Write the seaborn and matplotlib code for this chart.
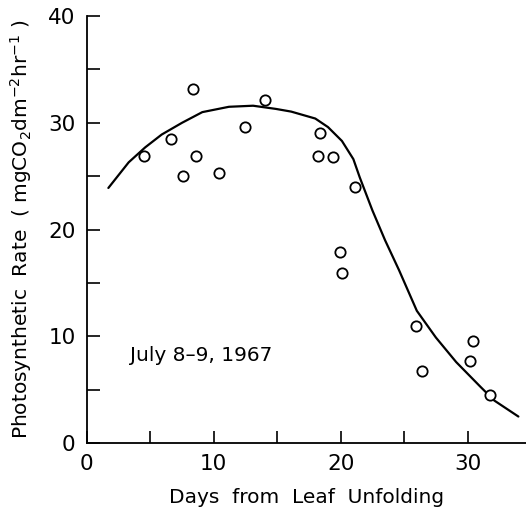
import matplotlib
matplotlib.use("Agg")
import matplotlib.pyplot as plt
from matplotlib.ticker import MultipleLocator
import seaborn as sns
import pandas as pd

# Measured leaf photosynthesis, July 8-9, 1967
obs_days = [4.5, 6.6, 7.6, 8.4, 8.6, 10.4, 12.5, 14.0, 18.4, 18.2, 19.4, 21.1,
            19.95, 20.1, 25.9, 26.4, 30.4, 30.2, 31.8]
obs_rate = [26.9, 28.5, 25.0, 33.2, 26.9, 25.3, 29.6, 32.1, 29.0, 26.9, 26.8, 24.0,
            17.9, 15.9, 11.0, 6.8, 9.6, 7.7, 4.5]

# Fitted seasonal trend
curve_days = [1.7, 3.3, 4.6, 5.9, 7.5, 9.1, 11.2, 13.1, 14.9, 16.1, 18.0, 19.0,
              20.1, 21.0, 21.5, 22.5, 23.5, 24.6, 26.0, 27.5, 29.1, 31.0, 32.1, 34.0]
curve_rate = [23.9, 26.3, 27.7, 28.9, 30.0, 31.0, 31.5, 31.6, 31.3, 31.05, 30.4, 29.6,
              28.3, 26.6, 24.9, 21.8, 19.0, 16.2, 12.4, 9.9, 7.6, 5.3, 4.0, 2.5]

obs = pd.DataFrame({"day": obs_days, "rate": obs_rate})
curve = pd.DataFrame({"day": curve_days, "rate": curve_rate})

sns.set_style("ticks")
plt.rcParams["font.family"] = ["DejaVu Sans"]
plt.rcParams["text.color"] = "black"
plt.rcParams["axes.labelcolor"] = "black"
plt.rcParams["xtick.color"] = "black"
plt.rcParams["ytick.color"] = "black"

fig = plt.figure(figsize=(5.26, 5.16), dpi=100)
ax = fig.add_axes([0.165, 0.141, 0.835, 0.828])

sns.lineplot(data=curve, x="day", y="rate", ax=ax, color="black", linewidth=1.6,
             sort=False, estimator=None, zorder=2)
sns.scatterplot(data=obs, x="day", y="rate", ax=ax, marker="o", s=55,
                facecolor="white", edgecolor="black", linewidth=1.3, zorder=3)
for line in ax.lines:
    line.set_solid_joinstyle("round")

ax.set_xlim(0, 34.6)
ax.set_ylim(0, 40)
ax.xaxis.set_major_locator(MultipleLocator(10))
ax.xaxis.set_minor_locator(MultipleLocator(5))
ax.yaxis.set_major_locator(MultipleLocator(10))
ax.yaxis.set_minor_locator(MultipleLocator(5))

for side in ("top", "right"):
    ax.spines[side].set_visible(False)
for side in ("left", "bottom"):
    ax.spines[side].set_linewidth(1.3)
    ax.spines[side].set_color("black")

ax.tick_params(axis="both", which="both", direction="in", width=1.2, color="black")
ax.tick_params(axis="both", which="major", length=9, labelsize=15.5, pad=8)
ax.tick_params(axis="both", which="minor", length=9)

ax.set_xlabel("Days  from  Leaf  Unfolding", fontsize=14.5, labelpad=10)
ax.set_ylabel(r"Photosynthetic  Rate  ( mgCO$_2$dm$^{-2}$hr$^{-1}$ )",
              fontsize=14.5, labelpad=10)

ax.text(3.4, 8.2, "July 8\u20139, 1967", fontsize=14.5, ha="left", va="center")

fig.savefig("out.png", dpi=100)
